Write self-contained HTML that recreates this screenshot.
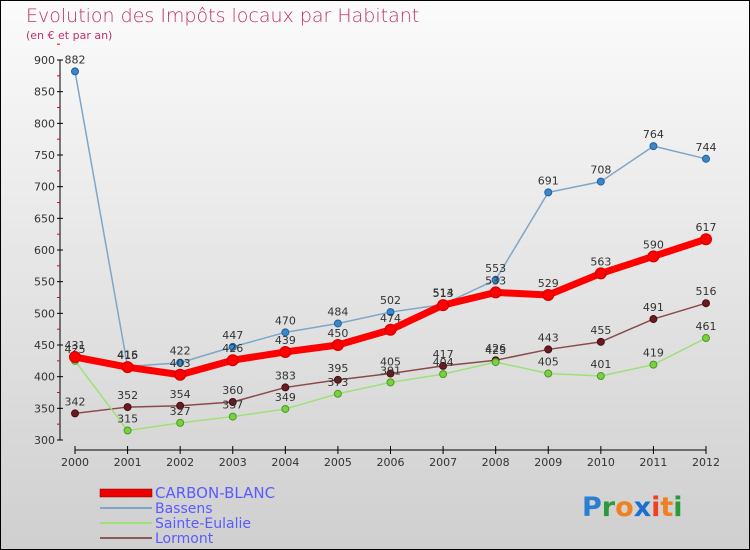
<!DOCTYPE html>
<html><head><meta charset="utf-8"><style>
body{margin:0;width:750px;height:550px;overflow:hidden}
svg{display:block;font-family:"DejaVu Sans","Liberation Sans",sans-serif}
</style></head><body>
<svg id="c" width="750" height="550">
<defs><linearGradient id="bg" x1="0" y1="0" x2="0" y2="1"><stop offset="0" stop-color="#fbfbfb"/><stop offset="1" stop-color="#cfcfcf"/></linearGradient></defs>
<rect x="0.5" y="0.5" width="749" height="549" fill="url(#bg)" stroke="#000"/>
<text x="26" y="22" font-size="19" fill="#c0306a" style="font-weight:200">Evolution des Impôts locaux par Habitant</text>
<text x="26" y="39" font-size="11" fill="#c0306a">(en € et par an)</text>
<g id="axes"></g><g id="plot"></g>
<g>
<rect x="100" y="489" width="52" height="8" fill="#e00" stroke="#800" stroke-width="0.5"/>
<text x="155" y="498" font-size="15" fill="#5a5aff">CARBON-BLANC</text>
<line x1="100" y1="508" x2="152" y2="508" stroke="#7ea6c8" stroke-width="2"/>
<text x="155" y="513" font-size="14" fill="#5a5aff">Bassens</text>
<line x1="100" y1="523" x2="152" y2="523" stroke="#9ee07a" stroke-width="2"/>
<text x="155" y="528" font-size="14" fill="#5a5aff">Sainte-Eulalie</text>
<line x1="100" y1="538" x2="152" y2="538" stroke="#8a5a5a" stroke-width="2"/>
<text x="155" y="543" font-size="14" fill="#5a5aff">Lormont</text>
</g>
<text x="582" y="516" font-size="27" font-weight="bold"><tspan fill="#2a7fd0">P</tspan><tspan fill="#2a9a3a">r</tspan><tspan fill="#f08020">o</tspan><tspan fill="#1a6fd0">x</tspan><tspan fill="#f04020">i</tspan><tspan fill="#f08020">t</tspan><tspan fill="#2a9a3a">i</tspan></text>
</svg>
<script>
const years=[2000,2001,2002,2003,2004,2005,2006,2007,2008,2009,2010,2011,2012];
const yTicks=[300,350,400,450,500,550,600,650,700,750,800,850,900];
const carbonBlanc=[431,415,403,426,439,450,474,513,533,529,563,590,617];
const bassens=[882,416,422,447,470,484,502,514,553,691,708,764,744];
const sainteEulalie=[425,315,327,337,349,373,391,404,423,405,401,419,461];
const lormont=[342,352,354,360,383,395,405,417,426,443,455,491,516];
const NS='http://www.w3.org/2000/svg';
const X=i=>75+i*(631/12), Y=v=>440-(v-300)*380/600;
function mk(t,a,p){const e=document.createElementNS(NS,t);for(const k in a)e.setAttribute(k,a[k]);p.appendChild(e);return e;}
const ax=document.getElementById('axes'),pl=document.getElementById('plot');
let yl=mk('line',{x1:60,y1:60,x2:60,y2:440,stroke:'#000','stroke-width':1},ax);

yTicks.forEach(v=>{mk('line',{x1:57,x2:63,y1:Y(v),y2:Y(v),stroke:'#000'},ax);
 mk('line',{x1:57,x2:60,y1:Y(v+25),y2:Y(v+25),stroke:'#e00'},ax);
 const t=mk('text',{x:55,y:Y(v)+4,'font-size':11,fill:'#333','text-anchor':'end'},ax);t.textContent=v;
 });
let xl=mk('line',{x1:75,y1:450,x2:706,y2:450,stroke:'#000'},ax);

years.forEach((y,i)=>{mk('line',{x1:X(i),x2:X(i),y1:446,y2:454,stroke:'#000'},ax);
 const t=mk('text',{x:X(i),y:466,'font-size':11,fill:'#333','text-anchor':'middle'},ax);t.textContent=y;
 });
function series(d,name,col,w,dot,dotStroke,r){
 const g=mk('g',{},pl);
 const p=mk('polyline',{points:d.map((v,i)=>X(i)+','+Y(v)).join(' '),fill:'none',stroke:col,'stroke-width':w,'stroke-linejoin':'round'},g);
 
 d.forEach((v,i)=>{const c=mk('circle',{cx:X(i),cy:Y(v),r:r,fill:dot,stroke:dotStroke,'stroke-width':1},g);
  
  const t=mk('text',{x:X(i),y:Y(v)-8,'font-size':11,fill:'#333','text-anchor':'middle'},g);t.textContent=v;
  });
}
series(lormont,'lormont','#8a4a4a',1.5,'#6a1a20','#4a1010',3.5);
series(sainteEulalie,'sainte-eulalie','#9ee07a',1.5,'#7ad040','#4a9a20',3.5);
series(bassens,'bassens','#7ea6c8',1.5,'#3a88c8','#2060a0',3.5);
series(carbonBlanc,'carbon-blanc','#f00',7,'#f00','#c00',5.5);
</script>
</body></html>
